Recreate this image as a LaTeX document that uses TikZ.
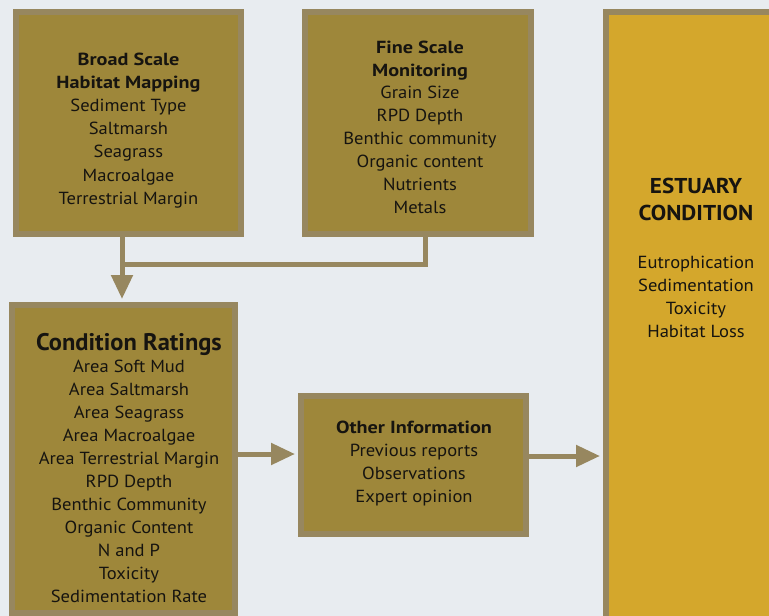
\documentclass[tikz,border=0pt]{standalone}
\usepackage{fontspec}
\setmainfont{PT Sans}
\newfontfamily\bodyfont[FakeStretch=1.06]{PT Sans}
\newfontfamily\headfont[FakeStretch=1.155]{PT Sans}
\newfontfamily\bigheadfont[FakeStretch=1.02]{PT Sans}
\newfontfamily\capsfont[FakeStretch=1.075]{PT Sans}
\usetikzlibrary{arrows.meta}

\definecolor{bg}{HTML}{E8ECF0}
\definecolor{olive}{HTML}{9E873A}
\definecolor{rim}{HTML}{97875F}
\definecolor{gold}{HTML}{D4A72C}
\definecolor{ink}{HTML}{161410}

\tikzset{
  panel/.style={draw=rim, line width=6pt, fill=olive, inner sep=0pt},
  goldpanel/.style={panel, fill=gold},
  txt/.style={anchor=base, inner sep=0pt, text=ink, font=\bodyfont\fontsize{17.5}{20}\selectfont},
  hd/.style={txt, font=\headfont\fontsize{17.5}{20}\selectfont\bfseries},
  bighd/.style={txt, font=\bigheadfont\fontsize{24}{27}\selectfont\bfseries},
  capshd/.style={txt, font=\capsfont\fontsize{21.5}{24}\selectfont\bfseries},
  link/.style={draw=rim, line width=5pt},
  flow/.style={link, shorten >=3pt, -{Triangle[length=24pt,width=21pt]}},
}

\begin{document}
\begin{tikzpicture}[x=1pt,y=-1pt]
  \useasboundingbox (0,0) rectangle (769,616);
  \clip (0,0) rectangle (769,616);
  \fill[bg] (0,0) rectangle (769,616);

  % boxes (size = outer size minus the rim width)
  \node[panel, minimum width=225pt, minimum height=222pt] (broad) at (128.5,123) {};
  \node[panel, minimum width=226pt, minimum height=222pt] (fine) at (418,123) {};
  \node[panel, minimum width=223pt, minimum height=308pt] (cond) at (123.5,459) {};
  \node[panel, minimum width=225pt, minimum height=138pt] (other) at (413.5,465) {};
  \node[goldpanel, minimum width=171pt, minimum height=615pt] (estuary) at (691.5,319.5) {};

  % connectors
  \coordinate (j1) at (122,264);
  \coordinate (j2) at (425,264);
  \draw[link] (broad.south -| j1) -- (j1);
  \draw[link] (fine.south -| j2) -- (j2) -- ([xshift=-2.5pt]j1);
  \draw[flow] (j1) -- (cond.north -| j1);
  \draw[flow] (cond.east |- 0,454) -- (other.west |- 0,454);
  \draw[flow] (other.east |- 0,456) -- (estuary.west |- 0,456);

  % box texts
  \node[hd] (broad-h1) at (128.5,65) {Broad Scale};
  \node[hd] (broad-h2) at (128.5,88.2) {Habitat Mapping};
  \foreach \t [count=\i] in {Sediment Type,Saltmarsh,Seagrass,Macroalgae,Terrestrial Margin}
    \node[txt] (broad-\i) at (128.5,88.2+23.2*\i) {\t};

  \node[hd] (fine-h1) at (420,53) {Fine Scale};
  \node[hd] (fine-h2) at (420,76) {Monitoring};
  \foreach \t [count=\i] in {Grain Size,RPD Depth,Benthic community,Organic content,Nutrients,Metals}
    \node[txt] (fine-\i) at (420,76+22.9*\i) {\t};

  \node[bighd] (cond-h) at (129,350) {Condition Ratings};
  \foreach \t [count=\i] in {Area Soft Mud,Area Saltmarsh,Area Seagrass,Area Macroalgae,Area Terrestrial Margin,RPD Depth,Benthic Community,Organic Content,N and P,Toxicity,Sedimentation Rate}
    \node[txt] (cond-\i) at (129,349+23*\i) {\t};

  \node[hd] (other-h) at (414,433) {Other Information};
  \foreach \t [count=\i] in {Previous reports,Observations,Expert opinion}
    \node[txt] (other-\i) at (414,433+23*\i) {\t};

  \node[capshd] (est-h1) at (696,193) {ESTUARY};
  \node[capshd] (est-h2) at (696,220) {CONDITION};
  \foreach \t [count=\i] in {Eutrophication,Sedimentation,Toxicity,Habitat Loss}
    \node[txt] (est-\i) at (696,245+23*\i) {\t};
\end{tikzpicture}
\end{document}
